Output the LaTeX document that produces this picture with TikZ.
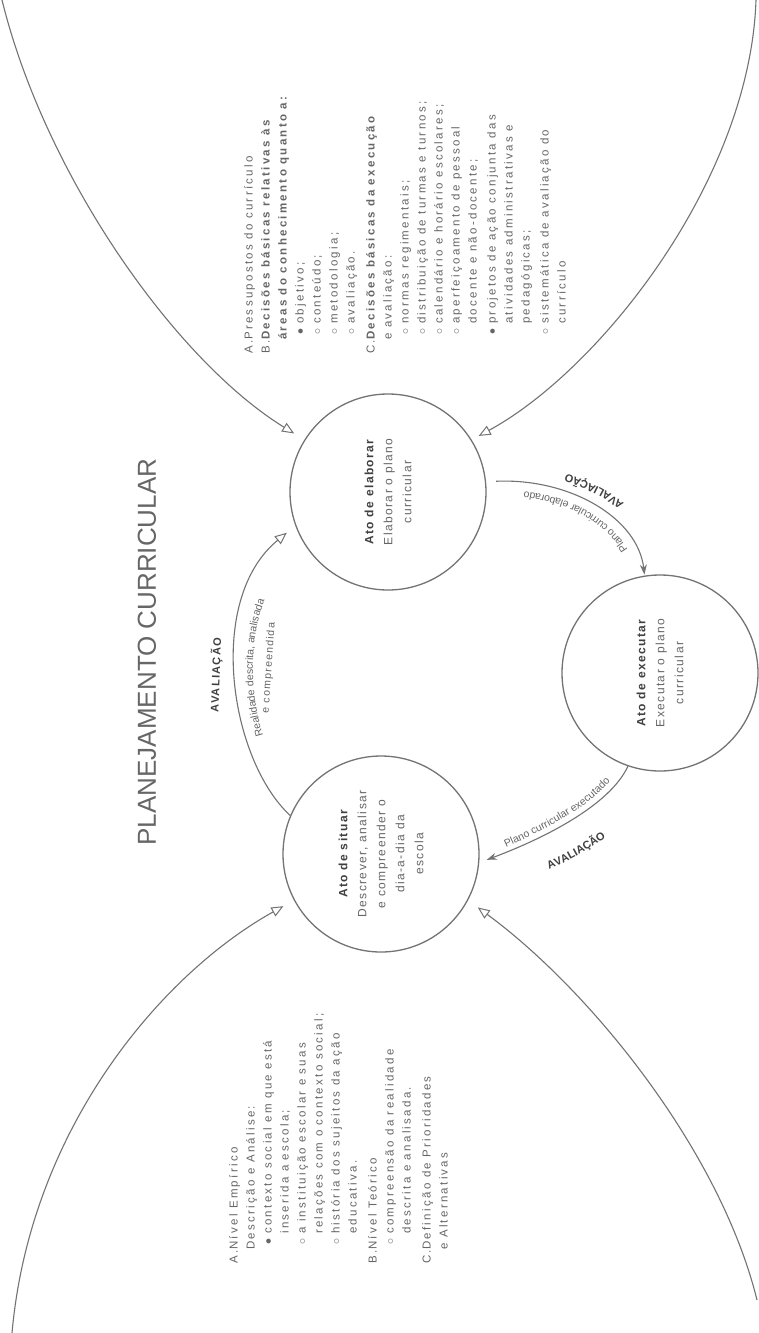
\documentclass[tikz,border=0pt]{standalone}
\usepackage{fontspec}
\setmainfont{Liberation Sans}
\newfontfamily\spacedfont[LetterSpace=12]{Liberation Sans}
\newfontfamily\listfont[LetterSpace=20]{Liberation Sans}
\usetikzlibrary{arrows.meta,decorations.text,calc}
\definecolor{ink}{gray}{0.40}
\definecolor{inkdark}{gray}{0.25}
\definecolor{linec}{gray}{0.45}
\newcommand{\Lh}[2]{\makebox[14pt][l]{#1}#2}
\newcommand{\Lc}[1]{\hspace*{14pt}#1}
\newcommand{\Lb}[2]{\hspace*{19pt}\makebox[11pt][l]{#1}#2}
\newcommand{\Li}[1]{\hspace*{30pt}#1}
\newcommand{\BS}{$\bullet$}
\newcommand{\BO}{$\circ$}
\newcommand{\pathfont}{\fontsize{10.5}{12}\selectfont}
\newcommand{\pathboldfont}{\bfseries\fontsize{11}{12}\selectfont}
\begin{document}
\begin{tikzpicture}[x=1pt,y=1pt,
  circ/.style={circle, draw=linec, line width=1.3pt, minimum size=196pt, inner sep=0pt},
  ctext/.style={rotate=90, align=center, text=ink, font=\spacedfont\fontsize{12}{19}\selectfont},
  listtext/.style={rotate=90, align=left, text=ink, inner sep=0pt, font=\listfont\fontsize{11.5}{17}\selectfont},
  titletext/.style={rotate=90, text=ink, font=\fontsize{26}{30}\selectfont},
  conn/.style={draw=linec, line width=1.1pt},
  openarr/.style={-{Triangle[open, length=12pt, width=10pt, line width=1pt]}},
  solidarr/.style={-{Stealth[length=10pt, width=7pt]}},
  lab/.style={text=inkdark, font=\spacedfont\bfseries\fontsize{11}{13}\selectfont},
]
\useasboundingbox (0,0) rectangle (758,-1333);
\fill[white] (0,0) rectangle (758,-1333);

% title
\node[titletext] (title) at (147,-652) {PLANEJAMENTO CURRICULAR};

% circles
\node[circ] (E) at (388,-492) {};
\node[circ] (X) at (660,-673) {};
\node[circ] (S) at (381,-854) {};

\node[ctext] (Et) at (E) {{\color{inkdark}\bfseries Ato de elaborar}\\Elaborar o plano\\curricular};
\node[ctext] (Xt) at (X) {{\color{inkdark}\bfseries Ato de executar}\\Executar o plano\\curricular};
\node[ctext] (St) at (S) {{\color{inkdark}\bfseries Ato de situar}\\Descrever, analisar\\e compreender o\\dia-a-dia da\\escola};

% lists
\node[listtext, anchor=north west] (LE) at (244,-354) {%
\Lh{A.}{Pressupostos do currículo}\\
\Lh{B.}{\textbf{Decisões básicas relativas às}}\\
\Lc{\textbf{áreas do conhecimento quanto a:}}\\
\Lb{\BS}{objetivo;}\\
\Lb{\BO}{conteúdo;}\\
\Lb{\BO}{metodologia;}\\
\Lb{\BO}{avaliação.}\\[3pt]
\Lh{C.}{\textbf{Decisões básicas da execução}}\\
\Lc{e avaliação:}\\
\Lb{\BO}{normas regimentais;}\\
\Lb{\BO}{distribuição de turmas e turnos;}\\
\Lb{\BO}{calendário e horário escolares;}\\
\Lb{\BO}{aperfeiçoamento de pessoal}\\
\Li{docente e não-docente;}\\[2pt]
\Lb{\BS}{projetos de ação conjunta das}\\
\Li{atividades administrativas e}\\
\Li{pedagógicas;}\\[2pt]
\Lb{\BO}{sistemática de avaliação do}\\
\Li{currículo}};

\node[listtext, anchor=north west] (LS) at (229,-1264) {%
\Lh{A.}{Nível Empírico}\\
\Lc{Descrição e Análise:}\\
\Lb{\BS}{contexto social em que está}\\
\Li{inserida a escola;}\\
\Lb{\BO}{a instituição escolar e suas}\\
\Li{relações com o contexto social;}\\
\Lb{\BO}{história dos sujeitos da ação}\\
\Li{educativa.}\\[3pt]
\Lh{B.}{Nível Teórico}\\
\Lb{\BO}{compreensão da realidade}\\
\Li{descrita e analisada.}\\[3pt]
\Lh{C.}{Definição de Prioridades}\\
\Lc{e Alternativas}};

% big arcs
\coordinate (tl) at (2,0);
\coordinate (tr) at (756,0);
\coordinate (bl) at (12,-1333);
\coordinate (br) at (757,-1300);
\draw[conn, openarr, shorten >=12pt] (tl) .. controls (45,-175) and (175,-360) .. (E.148);
\draw[conn, openarr, shorten >=8pt] (tr) .. controls (750,-180) and (600,-370) .. (E.32);
\draw[conn, openarr, shorten >=12pt] (bl) .. controls (30,-1130) and (160,-975) .. (S.208);
\draw[conn, openarr, shorten >=12pt] (br) .. controls (720,-1150) and (590,-990) .. (S.332);

% connectors between circles
\draw[conn, openarr, shorten >=11pt] (S.157) .. controls (230,-760) and (205,-600) .. (E.200);
\draw[conn, solidarr, shorten <=10pt, shorten >=1pt] (E.6) .. controls (570,-478) and (638,-518) .. (X.99);
\draw[conn, solidarr, shorten >=8pt] (X.251) .. controls (610,-805) and (545,-838) .. (S.355);

% labels situar -> elaborar
\node[lab, rotate=88] (av1) at (216,-675) {AVALIAÇÃO};
\node[rotate=86, text=ink, font=\spacedfont\fontsize{10.5}{12}\selectfont] (ec) at (269,-668) {e compreendida};
\path[decorate, decoration={text along path, text align=center, text color=ink,
  text={|\pathfont|Realidade descrita{,} analisada}}]
  (301,-800) .. controls (248,-755) and (224,-605) .. (308,-540);

% labels elaborar -> executar
\path[decorate, decoration={text along path, text align=center, text color=ink,
  text={|\pathfont|Plano curricular elaborado}}]
  (641,-585) .. controls (632,-524) and (566,-486) .. (486,-490);
\path[decorate, decoration={text along path, text align=center, text color=inkdark,
  text={|\pathboldfont|AVALIAÇÃO}}]
  (658,-560) .. controls (652,-505) and (577,-463) .. (500,-466);

% labels executar -> situar
\path[decorate, decoration={text along path, text align=center, text color=ink,
  text={|\pathfont|Plano curricular executado}}]
  (484,-857) .. controls (545,-832) and (605,-800) .. (624,-762);
\path[decorate, decoration={text along path, text align=center, text color=inkdark,
  text={|\pathboldfont|AVALIAÇÃO}}]
  (492,-893) .. controls (557,-870) and (625,-835) .. (650,-795);
\end{tikzpicture}
\end{document}
